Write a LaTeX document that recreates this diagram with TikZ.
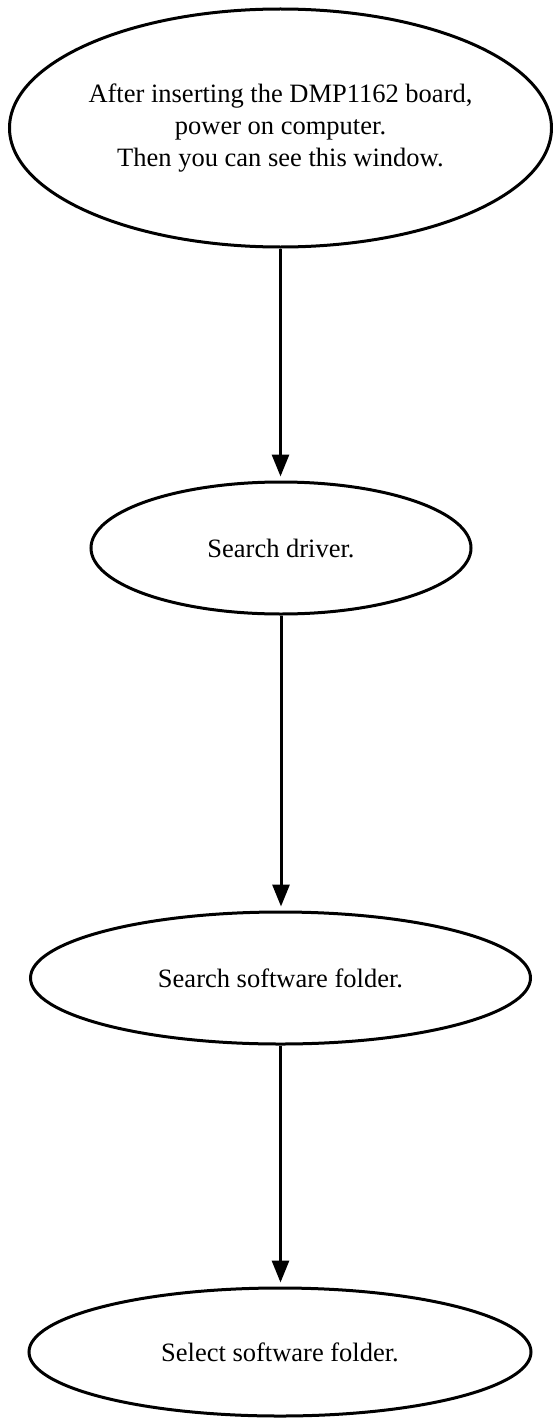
\documentclass[tikz,border=0pt]{standalone}
\usepackage{fontspec}
\setmainfont{Liberation Serif}
\usetikzlibrary{shapes.geometric,arrows.meta}
\begin{document}
\begin{tikzpicture}[x=1pt,y=-1pt,
  oval/.style={draw,ellipse,line width=3pt,inner sep=0pt,align=center,font=\fontsize{26.5}{32}\selectfont},
  conn/.style={line width=3pt,shorten >=4pt,-{Triangle[width=17pt,length=22pt]}}]
\useasboundingbox (0,0) rectangle (552,1418);
\node[oval,minimum width=542pt,minimum height=238pt,inner xsep=-6pt] (e1) at (280.5,128) {After inserting the DMP1162 board,\\power on computer.\\Then you can see this window.};
\node[oval,minimum width=380pt,minimum height=132pt] (e2) at (281,548) {Search driver.};
\node[oval,minimum width=500pt,minimum height=132pt] (e3) at (280.5,978) {Search software folder.};
\node[oval,minimum width=502pt,minimum height=128pt] (e4) at (280,1352) {Select software folder.};
\draw[conn] (e1.south) -- (e1.south |- e2.north);
\draw[conn] (e2.south) -- (e2.south |- e3.north);
\draw[conn] (e3.south) -- (e3.south |- e4.north);
\end{tikzpicture}
\end{document}
